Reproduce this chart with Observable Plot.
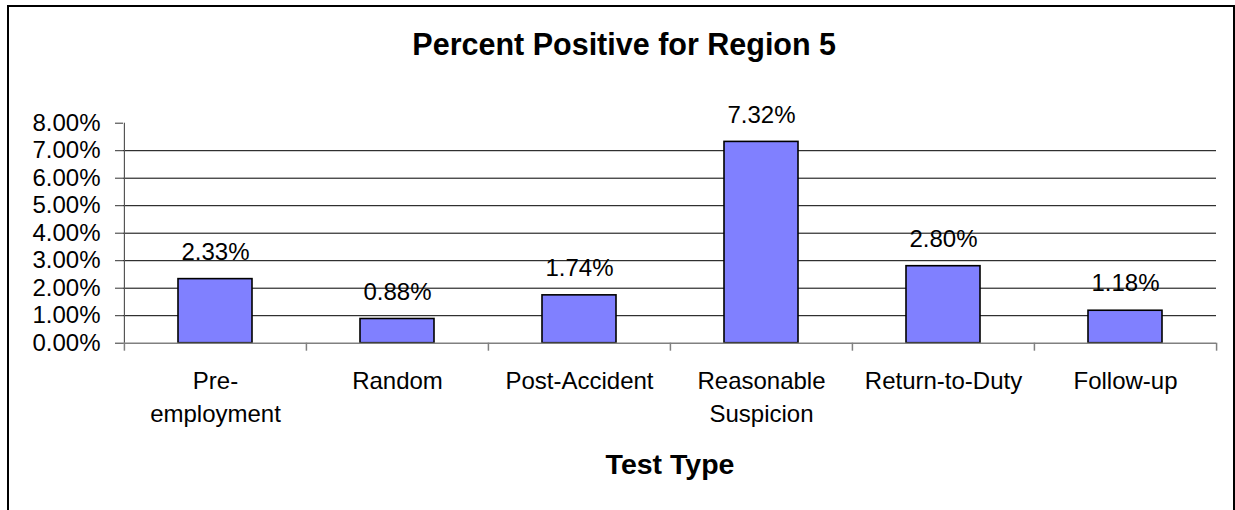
<!DOCTYPE html>
<html>
<head>
<meta charset="utf-8">
<script src="https://cdn.jsdelivr.net/npm/d3@7"></script>
<script src="https://cdn.jsdelivr.net/npm/@observablehq/plot@0.6"></script>
<style>
  html, body { margin: 0; padding: 0; background: #fff; }
  #wrap { position: relative; width: 1235px; height: 510px; overflow: hidden; background: #fff; }
  #border { position: absolute; left: 7px; top: 5px; width: 1228px; height: 600px; box-sizing: border-box; border: 2px solid #000; pointer-events: none; }
  #chart { position: absolute; left: 0; top: 0; }
</style>
</head>
<body>
<div id="wrap"><div id="chart"></div><div id="border"></div></div>
<script>
const title = "Percent Positive for Region 5";
const xTitle = "Test Type";
const categories = ["Pre-\nemployment", "Random", "Post-Accident", "Reasonable\nSuspicion", "Return-to-Duty", "Follow-up"];
const values = [0.0233, 0.0088, 0.0174, 0.0732, 0.0280, 0.0118];
const valueLabels = ["2.33%", "0.88%", "1.74%", "7.32%", "2.80%", "1.18%"];
const yTicks = [0, 0.01, 0.02, 0.03, 0.04, 0.05, 0.06, 0.07, 0.08];
const gridTicks = [0.01, 0.02, 0.03, 0.04, 0.05, 0.06, 0.07];

const data = categories.map((c, i) => ({cat: c, value: values[i], label: valueLabels[i]}));

const W = 1235, H = 510;
const mL = 123, mR = 19, mT = 122.7, mB = 167.3;
const step = (W - mL - mR) / categories.length;
const frameCx = mL + (W - mL - mR) / 2;
const font = "'Liberation Sans', Arial, sans-serif";

const chart = Plot.plot({
  width: W,
  height: H,
  marginLeft: mL,
  marginRight: mR,
  marginTop: mT,
  marginBottom: mB,
  style: {fontFamily: font, fontSize: "24px", color: "#000", background: "transparent", overflow: "visible"},
  x: {domain: categories, paddingInner: 0.595, paddingOuter: 0.2975, align: 0.5, label: null},
  y: {domain: [0, 0.08], label: null},
  marks: [
    Plot.ruleY(gridTicks, {stroke: "#000", strokeWidth: 1}),
    Plot.barY(data, {x: "cat", y: "value", fill: "#8080FF", stroke: "#000", strokeWidth: 1.6}),
    Plot.text(data, {x: "cat", y: "value", text: "label", dy: -27, fontSize: 24, fill: "#000", lineAnchor: "middle"}),
    Plot.ruleY([0], {stroke: "#808080", strokeWidth: 1.5}),
    Plot.ruleX([categories[0]], {x: d => d, y1: 0.08, y2: 0, dx: -step / 2, stroke: "#555", strokeWidth: 1.2}),
    Plot.ruleX(categories, {x: d => d, y1: 0, insetBottom: -8, dx: -step / 2, stroke: "#808080", strokeWidth: 1.5}),
    Plot.ruleX([categories[categories.length - 1]], {x: d => d, y1: 0, insetBottom: -8, dx: step / 2, stroke: "#808080", strokeWidth: 1.5}),
    Plot.axisY({ticks: yTicks, tickFormat: d3.format(".2%"), tickSize: 8, tickPadding: 15, fontSize: 24, stroke: "#333", label: null}),
    Plot.axisX({tickSize: 0, tickPadding: 22, fontSize: 24, lineHeight: 1.38, label: null}),
    Plot.text([title], {frameAnchor: "top", dx: 623.7 - frameCx, dy: 44.5 - mT, fontSize: 30.5, fontWeight: "bold", fill: "#000", lineAnchor: "middle"}),
    Plot.text([xTitle], {frameAnchor: "bottom", dy: 464 - (H - mB), fontSize: 28.5, fontWeight: "bold", fill: "#000", lineAnchor: "middle"})
  ]
});
document.getElementById("chart").appendChild(chart);
</script>
</body>
</html>
